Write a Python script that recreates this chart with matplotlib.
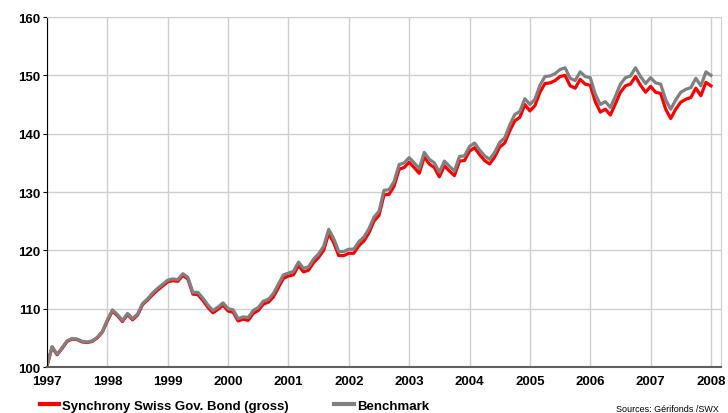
import matplotlib.pyplot as plt
from matplotlib.lines import Line2D

# Monatswerte Jan 1997 .. Jan 2008 (Index, Start = 100)
years = list(range(1997, 2009))

fund = [100.2, 103.4, 102.1, 103.2, 104.4, 104.8, 104.7, 104.3, 104.2, 104.4, 105.0, 106.0,
        107.9, 109.6, 108.8, 107.8, 109.0, 108.1, 108.9, 110.7, 111.5, 112.4, 113.2, 113.9,
        114.6, 114.8, 114.7, 115.7, 115.1, 112.5, 112.4, 111.4, 110.2, 109.3, 109.9, 110.6,
        109.6, 109.4, 107.9, 108.2, 108.0, 109.2, 109.7, 110.8, 111.1, 112.0, 113.6, 115.2,
        115.6, 115.8, 117.4, 116.3, 116.6, 117.9, 118.8, 120.0, 122.9, 121.3, 119.1, 119.1,
        119.5, 119.5, 120.8, 121.6, 123.0, 125.0, 126.0, 129.5, 129.6, 131.0, 133.9, 134.2,
        135.1, 134.2, 133.2, 136.0, 134.8, 134.2, 132.6, 134.5, 133.6, 132.8, 135.3, 135.4,
        137.0, 137.6, 136.4, 135.4, 134.8, 136.0, 137.7, 138.4, 140.5, 142.2, 142.8, 145.0,
        143.9, 144.8, 147.1, 148.6, 148.7, 149.1, 149.8, 150.0, 148.2, 147.8, 149.3, 148.5,
        148.3, 145.5, 143.7, 144.2, 143.2, 145.1, 147.1, 148.2, 148.5, 149.8, 148.3, 147.1,
        148.1, 147.1, 146.9, 144.2, 142.6, 144.2, 145.4, 145.9, 146.2, 147.8, 146.5, 148.8,
        148.2]

bench = [100.3, 103.5, 102.2, 103.3, 104.5, 104.9, 104.8, 104.4, 104.3, 104.5, 105.1, 106.1,
         108.1, 109.8, 109.0, 108.0, 109.2, 108.3, 109.1, 110.9, 111.7, 112.7, 113.5, 114.2,
         114.9, 115.1, 115.0, 116.0, 115.4, 112.8, 112.8, 111.8, 110.6, 109.7, 110.3, 111.0,
         110.0, 109.8, 108.3, 108.6, 108.5, 109.7, 110.2, 111.3, 111.6, 112.6, 114.2, 115.8,
         116.1, 116.4, 118.0, 116.9, 117.2, 118.5, 119.4, 120.7, 123.6, 122.0, 119.8, 119.8,
         120.2, 120.2, 121.5, 122.3, 123.7, 125.7, 126.7, 130.3, 130.4, 131.8, 134.7, 135.0,
         135.9, 135.0, 134.0, 136.8, 135.6, 135.0, 133.4, 135.3, 134.4, 133.6, 136.1, 136.2,
         137.8, 138.4, 137.2, 136.2, 135.6, 136.8, 138.5, 139.3, 141.5, 143.3, 143.8, 146.0,
         145.0, 145.9, 148.3, 149.8, 149.9, 150.3, 151.0, 151.3, 149.5, 149.1, 150.6, 149.8,
         149.6, 146.8, 145.0, 145.5, 144.5, 146.4, 148.5, 149.6, 149.9, 151.3, 149.8, 148.6,
         149.6, 148.7, 148.5, 145.8, 144.2, 145.8, 147.1, 147.6, 147.9, 149.5, 148.2, 150.6,
         150.0]

months = list(range(len(fund)))

plt.rcParams['font.family'] = ['Liberation Sans', 'DejaVu Sans']

fig = plt.figure(figsize=(7.28, 4.14), dpi=100)
ax = fig.add_axes([0.0646, 0.111, 0.9258, 0.8455])

ax.plot(months, fund, color='#FF0000', lw=2.3, solid_joinstyle='round')
ax.plot(months, bench, color='#808080', lw=2.3, solid_joinstyle='round')

ax.set_xlim(0, 134)
ax.set_ylim(100, 160)
ax.set_xticks([12 * i for i in range(len(years))])
ax.set_xticklabels([str(y) for y in years], fontweight='bold', fontsize=9.5)
ax.set_yticks(range(100, 161, 10))
ax.set_yticklabels([str(v) for v in range(100, 161, 10)], fontweight='bold', fontsize=9.5)
ax.grid(True, color='#CFCFCF', lw=1)
ax.set_axisbelow(True)

ax.tick_params(axis='x', length=0, pad=6)
ax.tick_params(axis='y', length=3, width=0.8, pad=2)
for s in ['top', 'right']:
    ax.spines[s].set_color('#CFCFCF')
ax.spines['left'].set_color('black')
ax.spines['bottom'].set_color('#606060')
ax.spines['bottom'].set_linewidth(1.5)

h1 = Line2D([], [], color='#FF0000', lw=3)
h2 = Line2D([], [], color='#808080', lw=3)
fig.legend([h1], ['Synchrony Swiss Gov. Bond (gross)'], loc='center left',
           bbox_to_anchor=(0.038, 0.018), frameon=False, handlelength=1.5,
           handletextpad=0.2, prop={'weight': 'bold', 'size': 9.5})
fig.legend([h2], ['Benchmark'], loc='center left',
           bbox_to_anchor=(0.443, 0.018), frameon=False, handlelength=1.5,
           handletextpad=0.2, prop={'weight': 'bold', 'size': 9.5})
fig.text(0.987, 0.012, 'Sources: Gérifonds /SWX', ha='right', va='center', fontsize=6.5)

plt.savefig('out.png', dpi=100)
